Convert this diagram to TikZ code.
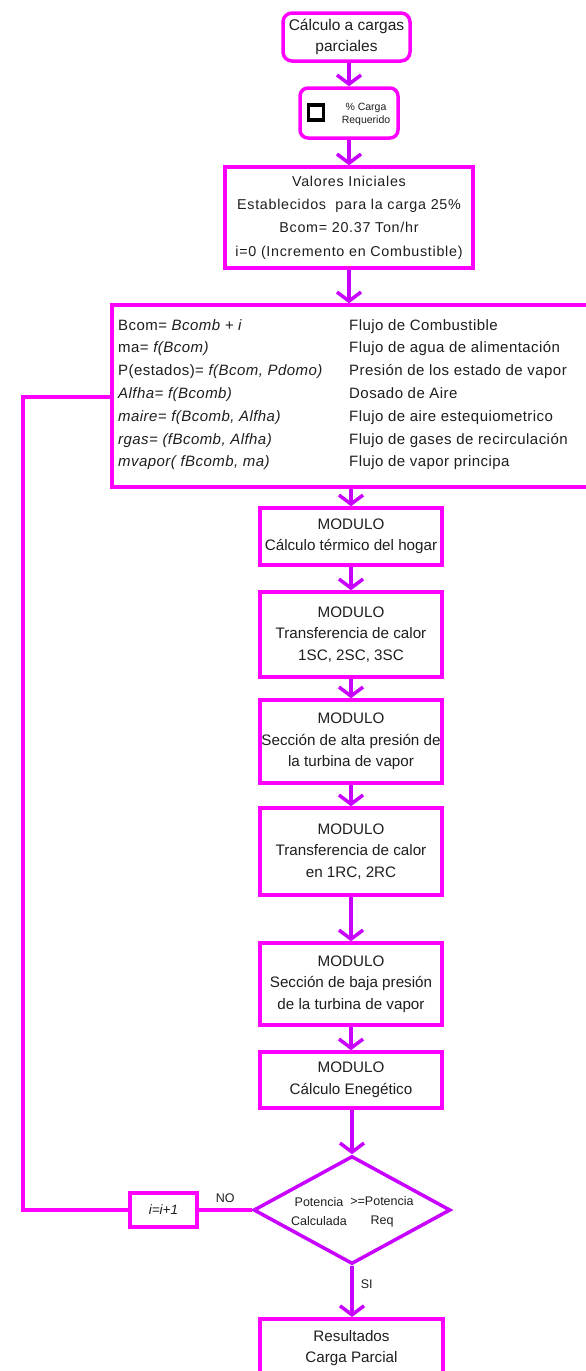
\documentclass[tikz,border=0pt]{standalone}
\usepackage{fontspec}
\setmainfont{Liberation Sans}
\newfontfamily\wide[LetterSpace=5]{Liberation Sans}
\newfontfamily\wider[LetterSpace=3]{Liberation Sans}
\usetikzlibrary{arrows.meta,shapes.geometric,calc}
\definecolor{mag}{RGB}{255,0,255}
\definecolor{pur}{RGB}{200,0,255}
\definecolor{ink}{RGB}{30,30,30}
\begin{document}
\begin{tikzpicture}[x=1pt,y=-1pt,
  box/.style={draw=mag,line width=3.5pt,fill=white,inner sep=0pt,align=center,text=ink},
  arr/.style={draw=pur,line width=3.5pt,-{Straight Barb[length=9pt,width=24pt,line width=3.5pt]}},
  lp/.style={draw=mag,line width=3.5pt},
  txt/.style={font=\fontsize{15.2}{21.5}\selectfont,align=center,text=ink,inner sep=0pt},
  wtxt/.style={font=\wide\fontsize{14.3}{23.3}\selectfont,align=center,text=ink,inner sep=0pt},
  btxt/.style={font=\wider\fontsize{15}{22.8}\selectfont,align=left,text=ink,inner sep=0pt,anchor=north west},
  small/.style={font=\fontsize{10.5}{13}\selectfont,align=center,text=ink,inner sep=0pt},
  dtxt/.style={font=\fontsize{12.5}{19}\selectfont,align=center,text=ink,inner sep=0pt},
  lab/.style={font=\fontsize{12.5}{14}\selectfont,text=ink,inner sep=0pt}]
\useasboundingbox (0,0) rectangle (586,1371);
\clip (0,0) rectangle (586,1371);
\fill[white] (0,0) rectangle (586,1371);

% top boxes
\node[box,rounded corners=9pt,minimum width=127pt,minimum height=48pt,txt,font=\fontsize{15.5}{21}\selectfont] (b1) at (346.5,37)
  {C\'alculo a cargas\\parciales};
\node[box,rounded corners=8pt,minimum width=98pt,minimum height=50pt] (b2) at (349,113) {};
\node[draw=black,line width=3.5pt,minimum width=15pt,minimum height=15pt,inner sep=0pt] (sq) at (316,112.5) {};
\node[small] (b2t) at (366,114) {\% Carga\\Requerido};

\node[box,minimum width=248pt,minimum height=101pt,wtxt] (b3) at (349,217.5)
  {Valores Iniciales\\Establecidos\ \ para la carga 25\%\\Bcom= 20.37 Ton/hr\\i=0 (Incremento en Combustible)};

% big box
\node[box,minimum width=488pt,minimum height=182pt] (big) at (356,396) {};
\node[btxt] (lcol) at (118,319)
  {Bcom= \textit{Bcomb + i}\\
   ma= \textit{f(Bcom)}\\
   P(estados)= \textit{f(Bcom, Pdomo)}\\
   \textit{Alfha= f(Bcomb)}\\
   \textit{maire= f(Bcomb, Alfha)}\\
   \textit{rgas= (fBcomb, Alfha)}\\
   \textit{mvapor( fBcomb, ma)}};
\node[btxt] (rcol) at (349,319)
  {Flujo de Combustible\\
   Flujo de agua de alimentaci\'on\\
   Presi\'on de los estado de vapor\\
   Dosado de Aire\\
   Flujo de aire estequiometrico\\
   Flujo de gases de recirculaci\'on\\
   Flujo de vapor principa};

% modules
\node[box,minimum width=182pt,minimum height=57pt,txt] (b5) at (351,536.5)
  {MODULO\\C\'alculo t\'ermico del hogar};
\node[box,minimum width=182pt,minimum height=85pt,txt] (b6) at (351,634.5)
  {MODULO\\Transferencia de calor\\1SC, 2SC, 3SC};
\node[box,minimum width=182pt,minimum height=83pt,txt] (b7) at (351,741.5)
  {MODULO\\Secci\'on de alta presi\'on de\\la turbina de vapor};
\node[box,minimum width=182pt,minimum height=87pt,txt] (b8) at (351,851.5)
  {MODULO\\Transferencia de calor\\en 1RC, 2RC};
\node[box,minimum width=182pt,minimum height=82pt,txt] (b9) at (351,984)
  {MODULO\\Secci\'on de baja presi\'on\\de la turbina de vapor};
\node[box,minimum width=182pt,minimum height=56pt,txt] (b10) at (351,1080)
  {MODULO\\C\'alculo Enegético};

% decision
\node[draw=pur,line width=3.5pt,diamond,inner sep=0pt,minimum width=197pt,minimum height=108pt,fill=white] (dia) at (352,1210) {};
\node[dtxt] (dtl) at (319,1212) {Potencia\\Calculada};
\node[dtxt] (dtr) at (382,1212) {>=Potencia\\Req};

\node[box,minimum width=67pt,minimum height=34pt,font=\fontsize{13.5}{15}\selectfont\itshape] (inc) at (163.5,1210) {i=i+1};

\node[box,anchor=north,minimum width=183pt,minimum height=90pt] (res) at (351.5,1317) {};
\node[txt] (rest) at (351.5,1348) {Resultados\\Carga Parcial};

% connectors
\draw[arr] (b1.south -| b2.north) -- (b2.north);
\draw[arr] (b2.south) -- (b3.north);
\draw[arr] (b3.south) -- (b3.south |- big.north);
\draw[arr] (b5.north |- big.south) -- (b5.north);
\draw[arr] (b5.south) -- (b6.north);
\draw[arr] (b6.south) -- (b7.north);
\draw[arr] (b7.south) -- (b8.north);
\draw[arr] (b8.south) -- (b9.north);
\draw[arr] (b9.south) -- (b10.north);
\draw[arr] (b10.south -| dia.north) -- (dia.north);
\draw[arr] (dia.south) -- node[lab,right=7pt,pos=0.35] (si) {SI} (dia.south |- res.north);

\coordinate (c1) at (23,397);
\draw[lp] (dia.west) -- node[lab,above=6pt,pos=0.5] (no) {NO} (inc.east);
\draw[lp,line join=miter] (inc.west) -| (c1) -- (c1 -| big.west);
\end{tikzpicture}
\end{document}
